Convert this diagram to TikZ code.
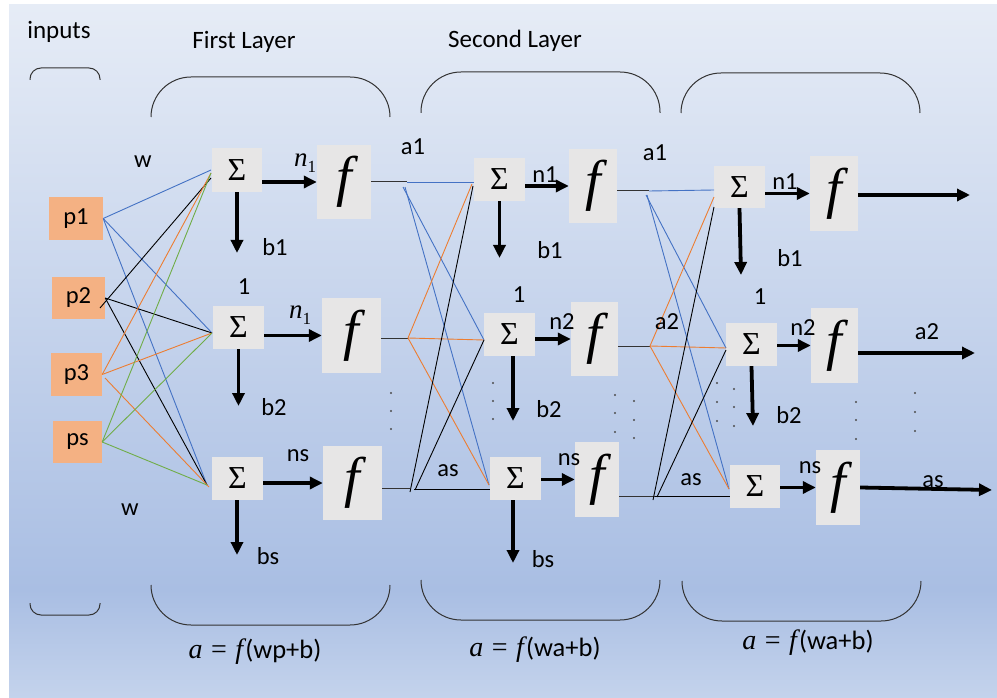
\documentclass[tikz,border=0pt]{standalone}
\usepackage{fontspec}
\setmainfont{Carlito}
\newfontfamily\mathser{Liberation Serif}
\usetikzlibrary{arrows.meta}
\definecolor{bgtop}{HTML}{E6ECF6}
\definecolor{bgmid}{HTML}{A9BEE3}
\definecolor{bgbot}{HTML}{C4D3EC}
\definecolor{boxgray}{HTML}{E7E6E6}
\definecolor{inorange}{HTML}{F4B183}
\definecolor{wblue}{HTML}{4472C4}
\definecolor{worange}{HTML}{ED7D31}
\definecolor{wgreen}{HTML}{70AD47}
\newcommand{\ital}[1]{{\mathser\itshape #1}}
\newcommand{\formula}[1]{{\mathser\fontsize{28}{28}\selectfont\itshape a\hspace{0.3em}\upshape=\hspace{0.3em}\itshape f\hspace{0.08em}}{\fontsize{26.5}{26.5}\selectfont #1}}
\begin{document}
\begin{tikzpicture}[x=1pt,y=-1pt,
  lab/.style={inner sep=0pt, font=\fontsize{24.5}{24.5}\selectfont},
  headlab/.style={inner sep=0pt, font=\fontsize{25}{25}\selectfont},
  inbox/.style={fill=inorange, inner sep=0pt, font=\fontsize{24.5}{24.5}\selectfont},
  sumbox/.style={fill=boxgray, inner sep=0pt, font=\mathser\fontsize{32}{32}\selectfont},
  actbox/.style={fill=boxgray, inner sep=0pt, font=\mathser\itshape\fontsize{56}{56}\selectfont},
  wire/.style={line width=0.9pt},
  outwire/.style={line width=1pt, draw=black!80},
  bigarrow/.style={line width=3.8pt, -{Triangle[length=13pt,width=12pt]}},
  bracket/.style={line width=1pt, draw=black!80},
  dotmark/.style={fill=black!70}]
\useasboundingbox (0,0) rectangle (997,698);
\fill[white] (0,0) rectangle (997,698);
\shade[top color=bgtop, bottom color=bgmid] (9,5) rectangle (997,590);
\shade[top color=bgmid, bottom color=bgbot] (9,589.5) rectangle (997,698);

% brackets
\draw[bracket, rounded corners=11pt] (30,80) -- (30,68) -- (100,68) -- (100,80);
\draw[bracket, rounded corners=11pt] (30,603) -- (30,615) -- (100,615) -- (100,603);
\draw[bracket, rounded corners=40pt] (151,117) -- (151,77) -- (390,77) -- (390,117);
\draw[bracket, rounded corners=40pt] (421,113) -- (421,72) -- (660,72) -- (660,113);
\draw[bracket, rounded corners=40pt] (681,113) -- (681,73) -- (920,73) -- (920,113);
\draw[bracket, rounded corners=40pt] (151,585) -- (151,625) -- (390,625) -- (390,585);
\draw[bracket, rounded corners=40pt] (421,580) -- (421,620) -- (660,620) -- (660,580);
\draw[bracket, rounded corners=40pt] (682,581) -- (682,621) -- (921,621) -- (921,581);

% headings
\node[headlab] (hin) at (59,32) {inputs};
\node[headlab] (h1) at (244,42) {First Layer};
\node[headlab] (h2) at (515,41) {Second Layer};

% input boxes
\node[inbox, minimum width=54pt, minimum height=43pt] (p1) at (76,218.5) {p1};
\node[inbox, minimum width=53pt, minimum height=42pt] (p2) at (78.5,298) {p2};
\node[inbox, minimum width=51pt, minimum height=43pt] (p3) at (76.5,374.5) {p3};
\node[inbox, minimum width=49pt, minimum height=42pt] (ps) at (77.5,442) {ps};

% layer 1
\node[sumbox, minimum width=50pt, minimum height=44pt] (s1) at (237,170) {Σ};
\node[sumbox, minimum width=51pt, minimum height=43pt] (s2) at (238.5,327.5) {Σ};
\node[sumbox, minimum width=51pt, minimum height=43pt] (s3) at (237.5,478.5) {Σ};
\node[actbox, minimum width=54pt, minimum height=74pt] (f1) at (344,182) {f};
\node[actbox, minimum width=59pt, minimum height=75pt] (f2) at (351.5,335.5) {f};
\node[actbox, minimum width=59pt, minimum height=74pt] (f3) at (352.5,483) {f};
% layer 2
\node[sumbox, minimum width=51pt, minimum height=43pt] (s4) at (499.5,179.5) {Σ};
\node[sumbox, minimum width=51pt, minimum height=43pt] (s5) at (509.5,334.5) {Σ};
\node[sumbox, minimum width=51pt, minimum height=43pt] (s6) at (515.5,478.5) {Σ};
\node[actbox, minimum width=48pt, minimum height=74pt] (f4) at (593,186) {f};
\node[actbox, minimum width=47pt, minimum height=74pt] (f5) at (594.5,339) {f};
\node[actbox, minimum width=44pt, minimum height=75pt] (f6) at (597,479.5) {f};
% layer 3
\node[sumbox, minimum width=51pt, minimum height=42pt] (s7) at (739.5,187) {Σ};
\node[sumbox, minimum width=51pt, minimum height=43pt] (s8) at (751.5,344.5) {Σ};
\node[sumbox, minimum width=50pt, minimum height=43pt] (s9) at (755,486.5) {Σ};
\node[actbox, minimum width=48pt, minimum height=75pt] (f7) at (834,193.5) {f};
\node[actbox, minimum width=47pt, minimum height=75pt] (f8) at (834.5,345.5) {f};
\node[actbox, minimum width=44pt, minimum height=75pt] (f9) at (838,487.5) {f};

% input -> layer 1 connection points
\coordinate (s1b) at (211,170);
\coordinate (s1k) at (211,178);
\coordinate (s1o) at (211,173);
\coordinate (s2i) at (212,333);
\coordinate (s3i) at (207,485);
\coordinate (s3o) at (209,487);
\coordinate (p2x) at (100,308);
\coordinate (p3b) at (105,378);

\draw[wire, wblue] (p1.east) -- (s1b);
\draw[wire, wblue] (p1.east) -- (s2i);
\draw[wire, wblue] (p1.east) -- (s3i);
\draw[wire, black] (p2x) -- (s1k);
\draw[wire, black] (p2.east) -- (s2i);
\draw[wire, black] (p2.east) -- (s3i);
\draw[wire, worange] (p3.east) -- (s1o);
\draw[wire, worange] (p3.east) -- (s2i);
\draw[wire, worange] (p3b) -- (s3o);
\draw[wire, wgreen] (ps.east) -- (s1o);
\draw[wire, wgreen] (ps.east) -- (s2i);
\draw[wire, wgreen] (ps.east) -- (s3i);

% layer 1 -> layer 2
\coordinate (j1) at (407,182);
\coordinate (j1a) at (403,187);
\coordinate (j1b) at (405,187);
\coordinate (j2) at (408,338);
\coordinate (j3) at (410,488);
\coordinate (j3a) at (410,492);
\coordinate (j3b) at (415,490);
\coordinate (j3c) at (414,489);
\coordinate (s4b) at (474,182);
\coordinate (s4o) at (472,184);
\coordinate (s4k) at (473,186);
\coordinate (s5i) at (484,340);
\coordinate (s6i) at (489,485);
\coordinate (s6k) at (490,489);

\draw[outwire] (f1.east) -- (j1);
\draw[outwire] (f2.east |- j2) -- (j2);
\draw[outwire] (f3.east |- j3) -- (j3);
\draw[wire, wblue] (j1) -- (s4b);
\draw[wire, wblue] (j1a) -- (s5i);
\draw[wire, wblue] (j1b) -- (s6i);
\draw[wire, worange] (j2) -- (s4o);
\draw[wire, worange] (j2) -- (s5i);
\draw[wire, worange] (j2) -- (s6i);
\draw[wire, black] (j3a) -- (s4k);
\draw[wire, black] (j3b) -- (s5i);
\draw[wire, black] (j3c) -- (s6k);

% layer 2 -> layer 3
\coordinate (k1) at (649,191);
\coordinate (k1a) at (646,195);
\coordinate (k1b) at (647,195);
\coordinate (k2) at (650,346);
\coordinate (k3) at (655,496);
\coordinate (k3a) at (653,500);
\coordinate (k3b) at (657,497);
\coordinate (s7b) at (714,190);
\coordinate (s7o) at (714,197);
\coordinate (s7k) at (714,207);
\coordinate (s8i) at (726,348);
\coordinate (s8k) at (726,350);
\coordinate (s9i) at (729,489);
\coordinate (s9k) at (730,496);

\draw[outwire] (f4.east |- k1) -- (k1);
\draw[outwire] (f5.east |- k2) -- (k2);
\draw[outwire] (f6.east |- k3) -- (k3);
\draw[wire, wblue] (k1) -- (s7b);
\draw[wire, wblue] (k1a) -- (s8i);
\draw[wire, wblue] (k1b) -- (s9i);
\draw[wire, worange] (k2) -- (s7o);
\draw[wire, worange] (k2) -- (s8i);
\draw[wire, worange] (k2) -- (s9i);
\draw[wire, black] (k3a) -- (s7k);
\draw[wire, black] (k3b) -- (s8k);
\draw[wire, black] (k3) -- (s9k);

% sum -> activation arrows
\draw[bigarrow] (s1.east |- f1.west) -- (f1.west);
\draw[bigarrow] (s2.east |- f2.west) -- (f2.west);
\draw[bigarrow] (s3.east |- f3.west) -- (f3.west);
\draw[bigarrow] (s4.east |- f4.west) -- (f4.west);
\draw[bigarrow] (s5.east |- f5.west) -- (f5.west);
\draw[bigarrow] (s6.east |- f6.west) -- (f6.west);
\draw[bigarrow] (s7.east |- f7.west) -- (f7.west);
\draw[bigarrow] (s8.east |- f8.west) -- (f8.west);
\draw[bigarrow] (s9.east |- f9.west) -- (f9.west);

% bias arrows
\coordinate (b1e) at (237,253);
\coordinate (b2e) at (238.5,406);
\coordinate (b3e) at (237,555);
\coordinate (b4e) at (499.5,258);
\coordinate (b5e) at (513,421);
\coordinate (b6e) at (513,563);
\coordinate (b7e) at (741,275);
\coordinate (b8e) at (753,426);
\draw[bigarrow] (s1.south) -- (b1e);
\draw[bigarrow] (s2.south) -- (b2e);
\draw[bigarrow] (s3.south -| b3e) -- (b3e);
\draw[bigarrow] (s4.south) -- (b4e);
\draw[bigarrow] (s5.south -| b5e) -- (b5e);
\draw[bigarrow] (s6.south -| b6e) -- (b6e);
\draw[bigarrow] (s7.south) -- (b7e);
\draw[bigarrow] (s8.south) -- (b8e);

% output arrows
\coordinate (o1) at (970,195);
\coordinate (o2) at (975,353);
\coordinate (o3) at (992,490);
\draw[bigarrow] (f7.east |- o1) -- (o1);
\draw[bigarrow] (f8.east |- o2) -- (o2);
\draw[bigarrow] (f9.east) -- (o3);

% labels
\node[lab] (w1) at (143,162) {w};
\node[lab] (w2) at (130,510) {w};
\node[lab] (ln1) at (305,163) {{\fontsize{27}{27}\selectfont\ital{n}}\raisebox{-0.25em}{\fontsize{17}{17}\selectfont\mathser 1}};
\node[lab] (ln2) at (300,315) {{\fontsize{27}{27}\selectfont\ital{n}}\raisebox{-0.25em}{\fontsize{17}{17}\selectfont\mathser 1}};
\node[lab] (ln3) at (298,456) {ns};
\node[lab] (lb1) at (275,247) {b1};
\node[lab] (lo1) at (244,287) {1};
\node[lab] (lb2) at (274,407) {b2};
\node[lab] (lb3) at (268,556) {bs};
\node[lab] (la1) at (413,147) {a1};
\node[lab] (las1) at (448,471) {as};
\node[lab] (ln4) at (545,175) {n1};
\node[lab] (lb4) at (550,250) {b1};
\node[lab] (lo2) at (519,295) {1};
\node[lab] (ln5) at (562,322) {n2};
\node[lab] (lb5) at (549,409) {b2};
\node[lab] (ln6) at (569,460) {ns};
\node[lab] (lb6) at (543,559) {bs};
\node[lab] (la2) at (655,153) {a1};
\node[lab] (la3) at (667,322) {a2};
\node[lab] (las2) at (691,480) {as};
\node[lab] (ln7) at (785,182) {n1};
\node[lab] (lb7) at (790,258) {b1};
\node[lab] (lo3) at (760,297) {1};
\node[lab] (ln8) at (803,328) {n2};
\node[lab] (lb8) at (789,415) {b2};
\node[lab] (ln9) at (810,468) {ns};
\node[lab] (la4) at (927,332) {a2};
\node[lab] (las3) at (933,482) {as};

% formulas
\node[lab] (fm1) at (255,652) {\formula{(wp+b)}};
\node[lab] (fm2) at (535,650) {\formula{(wa+b)}};
\node[lab] (fm3) at (808,643) {\formula{(wa+b)}};

% dots
\foreach \x/\ya/\yb/\yc in {391/393/411/429, 493/383/401/419, 615/395/413/432, 634/401/420/438, 717/383/402/421, 734/389/407/426, 856/402/420/439, 915/393/412/431}{
  \fill[dotmark] (\x,\ya) circle (1.1pt);
  \fill[dotmark] (\x,\yb) circle (1.1pt);
  \fill[dotmark] (\x,\yc) circle (1.1pt);
}
\end{tikzpicture}
\end{document}
